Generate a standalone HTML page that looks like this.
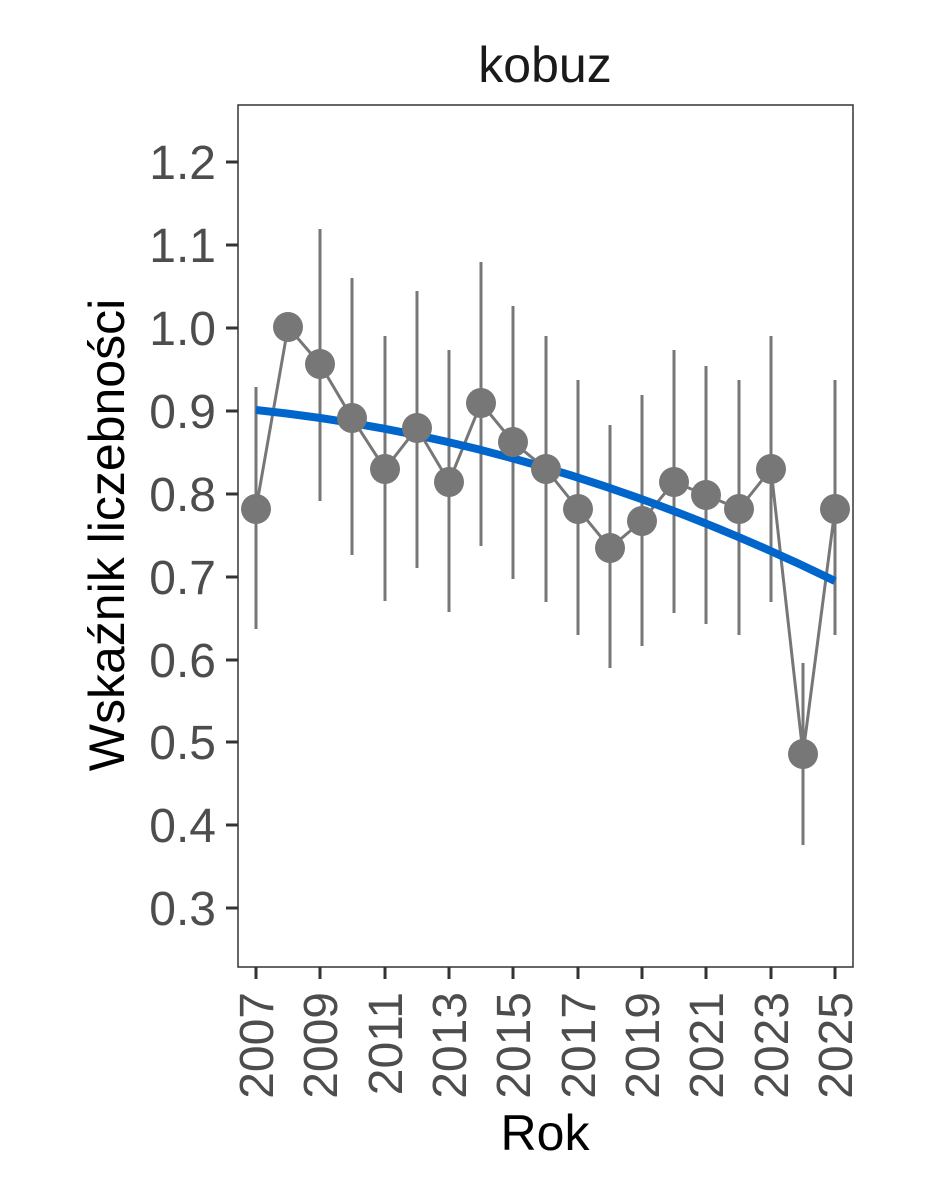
<!DOCTYPE html>
<html><head><style>body{margin:0;background:#fff}svg{display:block}</style></head><body>
<svg width="944" height="1181" xmlns="http://www.w3.org/2000/svg" font-family="Liberation Sans, Arial, sans-serif">
<rect width="944" height="1181" fill="#fff"/>
<text x="545" y="82" font-size="50" text-anchor="middle" fill="#1a1a1a">kobuz</text>
<rect x="238" y="105" width="615" height="862" fill="none" stroke="#333" stroke-width="1.5"/>
<g stroke="#333" stroke-width="3">
<line x1="226" x2="238" y1="162" y2="162"/><line x1="226" x2="238" y1="245" y2="245"/><line x1="226" x2="238" y1="328" y2="328"/><line x1="226" x2="238" y1="411" y2="411"/><line x1="226" x2="238" y1="494" y2="494"/><line x1="226" x2="238" y1="577" y2="577"/><line x1="226" x2="238" y1="660" y2="660"/><line x1="226" x2="238" y1="742" y2="742"/><line x1="226" x2="238" y1="825" y2="825"/><line x1="226" x2="238" y1="908" y2="908"/>
<line x1="256" x2="256" y1="967" y2="979"/><line x1="320" x2="320" y1="967" y2="979"/><line x1="385" x2="385" y1="967" y2="979"/><line x1="449" x2="449" y1="967" y2="979"/><line x1="513" x2="513" y1="967" y2="979"/><line x1="578" x2="578" y1="967" y2="979"/><line x1="642" x2="642" y1="967" y2="979"/><line x1="706" x2="706" y1="967" y2="979"/><line x1="771" x2="771" y1="967" y2="979"/><line x1="835" x2="835" y1="967" y2="979"/>
</g>
<g font-size="48" fill="#4d4d4d" text-anchor="end">
<text x="216" y="179">1.2</text><text x="216" y="262">1.1</text><text x="216" y="345">1.0</text><text x="216" y="428">0.9</text><text x="216" y="511">0.8</text><text x="216" y="594">0.7</text><text x="216" y="677">0.6</text><text x="216" y="759">0.5</text><text x="216" y="842">0.4</text><text x="216" y="925">0.3</text>
</g>
<g font-size="48" fill="#4d4d4d" text-anchor="end">
<text transform="translate(273,992) rotate(-90)">2007</text>
<text transform="translate(337,992) rotate(-90)">2009</text>
<text transform="translate(402,992) rotate(-90)">2011</text>
<text transform="translate(466,992) rotate(-90)">2013</text>
<text transform="translate(530,992) rotate(-90)">2015</text>
<text transform="translate(595,992) rotate(-90)">2017</text>
<text transform="translate(659,992) rotate(-90)">2019</text>
<text transform="translate(723,992) rotate(-90)">2021</text>
<text transform="translate(788,992) rotate(-90)">2023</text>
<text transform="translate(852,992) rotate(-90)">2025</text>
</g>
<text x="545" y="1150" font-size="50" text-anchor="middle" fill="#000">Rok</text>
<text transform="translate(124,535) rotate(-90)" font-size="50" text-anchor="middle" fill="#000">Wskaźnik liczebności</text>
<g stroke="#777" stroke-width="3">
<line x1="256" x2="256" y1="387" y2="629"/>
<line x1="320" x2="320" y1="229" y2="501"/>
<line x1="352" x2="352" y1="278" y2="555"/>
<line x1="385" x2="385" y1="336" y2="601"/>
<line x1="417" x2="417" y1="291" y2="568"/>
<line x1="449" x2="449" y1="350" y2="612"/>
<line x1="481" x2="481" y1="262" y2="546"/>
<line x1="513" x2="513" y1="306" y2="579"/>
<line x1="546" x2="546" y1="336" y2="602"/>
<line x1="578" x2="578" y1="380" y2="635"/>
<line x1="610" x2="610" y1="425" y2="668"/>
<line x1="642" x2="642" y1="395" y2="646"/>
<line x1="674" x2="674" y1="350" y2="613"/>
<line x1="706" x2="706" y1="366" y2="624"/>
<line x1="739" x2="739" y1="380" y2="635"/>
<line x1="771" x2="771" y1="336" y2="602"/>
<line x1="803" x2="803" y1="663" y2="845"/>
<line x1="835" x2="835" y1="380" y2="635"/>
</g>
<polyline fill="none" stroke="#777" stroke-width="3" points="256,509 288,327 320,364 352,418 385,469 417,428 449,482 481,403 513,442 546,469 578,509 610,548 642,521 674,482 706,495 739,509 771,469 803,754 835,509"/>
<path d="M256,410 Q546,440 835,581" fill="none" stroke="#0066cc" stroke-width="8"/>
<g fill="#777">
<circle cx="256" cy="509" r="15"/><circle cx="288" cy="327" r="15"/><circle cx="320" cy="364" r="15"/><circle cx="352" cy="418" r="15"/><circle cx="385" cy="469" r="15"/><circle cx="417" cy="428" r="15"/><circle cx="449" cy="482" r="15"/><circle cx="481" cy="403" r="15"/><circle cx="513" cy="442" r="15"/><circle cx="546" cy="469" r="15"/><circle cx="578" cy="509" r="15"/><circle cx="610" cy="548" r="15"/><circle cx="642" cy="521" r="15"/><circle cx="674" cy="482" r="15"/><circle cx="706" cy="495" r="15"/><circle cx="739" cy="509" r="15"/><circle cx="771" cy="469" r="15"/><circle cx="803" cy="754" r="15"/><circle cx="835" cy="509" r="15"/>
</g>
</svg>
</body></html>
